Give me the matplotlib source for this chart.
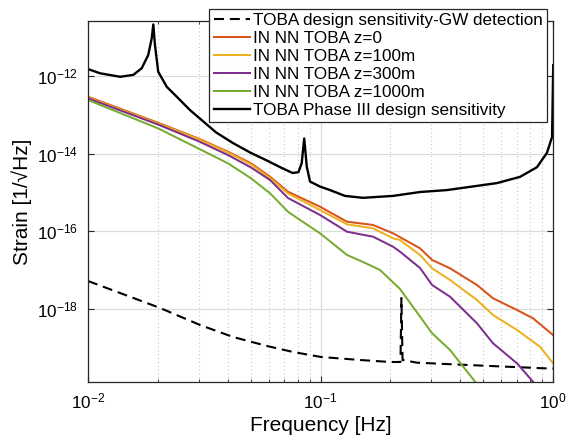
import numpy as np
import matplotlib
matplotlib.use("Agg")
import matplotlib.pyplot as plt
from matplotlib.ticker import FixedLocator, NullFormatter, LogLocator

plt.rcParams['font.family'] = ['Liberation Sans', 'DejaVu Sans']
plt.rcParams['mathtext.fontset'] = 'custom'
plt.rcParams['mathtext.rm'] = 'Liberation Sans'

# ---- data (log10 of frequency [Hz] and log10 of strain) ----
gw_logf = [-2.0, -1.690, -1.518, -1.376, -1.230, -1.118, -0.998, -0.830, -0.701,
           -0.656, -0.652, -0.647, -0.585, -0.370, -0.043, 0.0]
gw_logh = [-17.284, -17.979, -18.418, -18.727, -18.959, -19.113, -19.242, -19.320, -19.371,
           -19.371, -17.722, -19.320, -19.389, -19.448, -19.533, -19.539]

z0_logf = [-2.0, -1.699, -1.527, -1.398, -1.299, -1.217, -1.140, -1.002, -0.886, -0.774,
           -0.688, -0.572, -0.520, -0.443, -0.327, -0.258, -0.155, -0.086, 0.0]
z0_logh = [-12.533, -13.204, -13.606, -13.951, -14.250, -14.595, -14.982, -15.369, -15.755,
           -15.840, -16.054, -16.441, -16.742, -16.956, -17.387, -17.729, -18.031, -18.245, -18.675]

z100_logf = [-2.0, -1.699, -1.527, -1.398, -1.299, -1.217, -1.140, -1.002, -0.886, -0.774,
             -0.688, -0.658, -0.572, -0.520, -0.443, -0.327, -0.258, -0.155, -0.056, 0.0]
z100_logh = [-12.554, -13.224, -13.624, -13.972, -14.281, -14.629, -15.028, -15.454, -15.822,
             -15.925, -16.183, -16.227, -16.613, -16.956, -17.258, -17.773, -18.160, -18.546,
             -18.977, -19.405]

z300_logf = [-2.0, -1.699, -1.527, -1.398, -1.299, -1.217, -1.140, -1.002, -0.886, -0.774,
             -0.688, -0.658, -0.572, -0.520, -0.443, -0.327, -0.258, -0.155, -0.086, -0.034]
z300_logh = [-12.575, -13.250, -13.675, -14.036, -14.358, -14.680, -15.144, -15.582, -16.013,
             -16.142, -16.399, -16.528, -16.948, -17.387, -17.688, -18.374, -18.889, -19.405,
             -19.879, -20.27]

z1000_logf = [-2.0, -1.699, -1.527, -1.398, -1.299, -1.217, -1.140, -1.088, -1.002, -0.886,
              -0.817, -0.744, -0.658, -0.520, -0.443, -0.335, -0.292]
z1000_logh = [-12.619, -13.348, -13.863, -14.250, -14.637, -15.023, -15.497, -15.711, -16.054,
              -16.613, -16.794, -17.000, -17.490, -18.631, -19.062, -19.879, -20.27]

ph3_logf = [-2.0, -1.948, -1.862, -1.805, -1.769, -1.741, -1.726, -1.719, -1.712, -1.698,
            -1.661, -1.619, -1.561, -1.518, -1.450, -1.376, -1.300, -1.230, -1.170, -1.120,
            -1.095, -1.081, -1.070, -1.059, -1.045, -1.002, -0.959, -0.895, -0.817, -0.688,
            -0.572, -0.456, -0.241, -0.142, -0.069, -0.026, -0.004, 0.001]
ph3_logh = [-11.82, -11.93, -12.02, -11.97, -11.80, -11.46, -11.03, -10.67, -11.20, -11.89,
            -12.28, -12.53, -12.88, -13.10, -13.45, -13.73, -13.98, -14.18, -14.36, -14.50,
            -14.48, -14.25, -13.61, -14.34, -14.72, -14.85, -14.94, -15.09, -15.14, -15.09,
            -14.99, -14.94, -14.76, -14.60, -14.35, -13.98, -13.57, -11.72]

labels = ["TOBA design sensitivity-GW detection", "IN NN TOBA z=0", "IN NN TOBA z=100m",
          "IN NN TOBA z=300m", "IN NN TOBA z=1000m", "TOBA Phase III design sensitivity"]
colors = ["black", "#D95319", "#EDB120", "#7E2F8E", "#77AC30", "black"]

ytick_exps = [-18, -16, -14, -12]
xtick_exps = [-2, -1, 0]

# ---- figure ----
W, H = 570, 441
fig = plt.figure(figsize=(W / 100, H / 100), dpi=100)
ax = fig.add_axes([88 / W, (H - 382) / H, 465 / W, 361 / H])

p = lambda a: np.power(10.0, np.array(a))
ax.plot(p(gw_logf), p(gw_logh), color=colors[0], lw=1.5, ls=(0, (4.8, 2.8)), label=labels[0])
ax.plot(p(z0_logf), p(z0_logh), color=colors[1], lw=1.45, label=labels[1])
ax.plot(p(z100_logf), p(z100_logh), color=colors[2], lw=1.45, label=labels[2])
ax.plot(p(z300_logf), p(z300_logh), color=colors[3], lw=1.45, label=labels[3])
ax.plot(p(z1000_logf), p(z1000_logh), color=colors[4], lw=1.45, label=labels[4])
ax.plot(p(ph3_logf), p(ph3_logh), color=colors[5], lw=1.7, label=labels[5])

ax.set_xscale('log')
ax.set_yscale('log')
ax.set_xlim(1e-2, 1e0)
ax.set_ylim(10 ** -19.887, 10 ** -10.582)

ax.xaxis.set_major_locator(FixedLocator([10.0 ** e for e in xtick_exps]))
ax.set_xticklabels([r'$\mathregular{10^{%d}}$' % e for e in xtick_exps])
ax.xaxis.set_minor_locator(LogLocator(base=10, subs=np.arange(2, 10)))
ax.xaxis.set_minor_formatter(NullFormatter())
ax.yaxis.set_major_locator(FixedLocator([10.0 ** e for e in ytick_exps]))
ax.set_yticklabels([r'$\mathregular{10^{%d}}$' % e for e in ytick_exps])
ax.yaxis.set_minor_locator(FixedLocator([]))

ax.grid(True, which='major', color='#dcdcdc', lw=0.9, ls='-')
ax.xaxis.grid(True, which='minor', color='#c8c8c8', lw=0.8, ls=(0, (1, 2.5)))
ax.set_axisbelow(True)

ax.tick_params(which='both', direction='in', top=True, right=True, colors='#262626',
               labelsize=12.3, labelcolor='black')
ax.tick_params(which='major', length=4, width=0.8, pad=7)
ax.tick_params(which='minor', length=2.5, width=0.6)
for s in ax.spines.values():
    s.set_color('#262626')
    s.set_linewidth(0.9)

ax.set_xlabel('Frequency [Hz]', fontsize=15, labelpad=3)
ax.set_ylabel('Strain [1/\u221aHz]', fontsize=15, labelpad=4)

leg = ax.legend(loc='upper right', bbox_to_anchor=(0.987, 1.033), fontsize=12.3,
                frameon=True, fancybox=False, framealpha=1, edgecolor='#262626',
                labelspacing=0.17, borderpad=0.25, handlelength=2.1, handletextpad=0.2,
                borderaxespad=0.0)
leg.get_frame().set_linewidth(0.9)

fig.savefig('out.png', dpi=100)
